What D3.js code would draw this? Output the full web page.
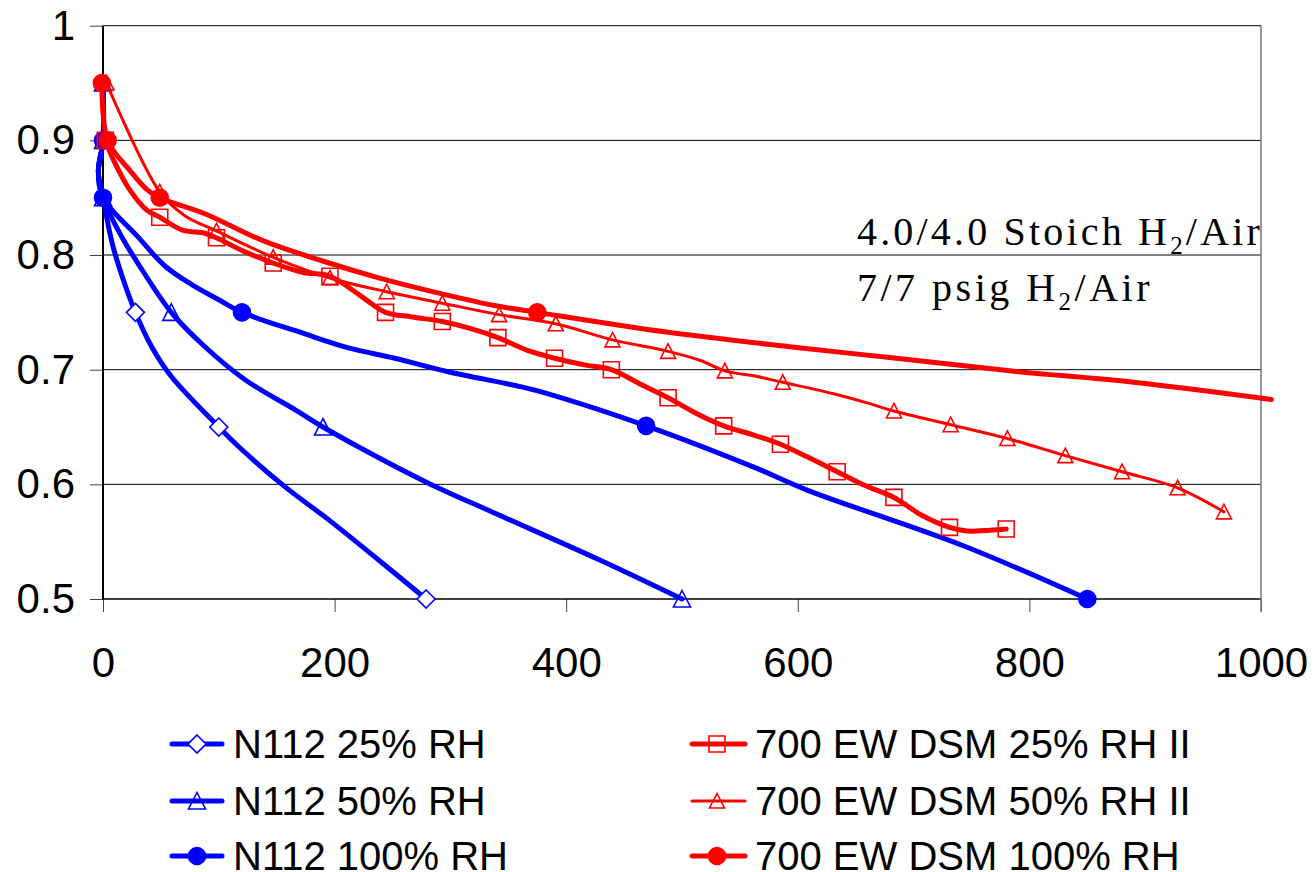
<!DOCTYPE html>
<html>
<head>
<meta charset="utf-8">
<script src="https://cdn.jsdelivr.net/npm/d3@7"></script>
<style>
  body { margin: 0; background: #fff; }
</style>
</head>
<body>
<script>
// Axis ticks
const xTicks = [0, 200, 400, 600, 800, 1000];
const yTicks = [0.5, 0.6, 0.7, 0.8, 0.9, 1];
const yTickLabels = ["0.5", "0.6", "0.7", "0.8", "0.9", "1"];

const seriesNames = ["N112 25% RH", "N112 50% RH", "N112 100% RH",
  "700 EW DSM 25% RH II", "700 EW DSM 50% RH II", "700 EW DSM 100% RH"];

// line points [x, y]
const n112rh25Line = [[0,0.95],[0,0.9],[-4,0.873],[0,0.85],[8,0.81],[17,0.78],[28,0.75],[42,0.72],[59,0.694],[100,0.65],
  [117,0.633],[157,0.598],[195,0.569],[238,0.534],[279,0.5]];
const n112rh25Marks = [[28,0.75],[100,0.65],[279,0.5]];

const n112rh50Line = [[0,0.95],[0,0.9],[-4,0.873],[0,0.85],[15,0.818],[30,0.793],[59,0.75],[88,0.72],[123,0.691],[166,0.665],
  [190,0.65],[220,0.633],[281,0.601],[338,0.575],[429,0.534],[500,0.5]];
const n112rh50Marks = [[0,0.95],[0,0.9],[0,0.85],[59,0.75],[190,0.65],[500,0.5]];

const n112rh100Line = [[0,0.95],[0,0.9],[-4,0.873],[0,0.85],[30,0.816],[54,0.79],[77,0.774],[100,0.761],[120,0.75],[172,0.732],
  [212,0.719],[252,0.71],[299,0.698],[357,0.686],[377,0.681],[469,0.651],[562,0.615],[608,0.595],[744,0.546],[850,0.5]];
const n112rh100Marks = [[0,0.9],[0,0.85],[120,0.75],[469,0.651],[850,0.5]];

const ewRh25Line = [[2,0.9],[9,0.883],[23,0.857],[38,0.839],[49,0.833],[68,0.822],[88,0.819],[98,0.815],[120,0.804],[147,0.793],
  [172,0.785],[196,0.7815],[223,0.764],[244,0.75],[267,0.746],[293,0.742],[317,0.736],[341,0.728],[366,0.717],[390,0.71],
  [417,0.704],[439,0.7],[463,0.688],[488,0.6755],[512,0.662],[536,0.651],[562,0.643],[585,0.635],[608,0.624],[634,0.611],
  [657,0.5994],[683,0.5886],[707,0.573],[731,0.5625],[746,0.5593],[766,0.56],[780,0.561]];
const ewRh25Marks = [[2,0.9],[49,0.833],[98,0.815],[147,0.793],[196,0.7815],[244,0.75],[293,0.742],[341,0.728],[390,0.71],
  [439,0.7],[488,0.6755],[536,0.651],[585,0.635],[634,0.611],[683,0.5886],[731,0.5625],[780,0.561]];

const ewRh50Line = [[3,0.95],[49,0.855],[71,0.834],[98,0.821],[147,0.798],[196,0.78],[245,0.768],[293,0.758],[342,0.748],
  [391,0.74],[440,0.726],[488,0.716],[516,0.708],[537,0.699],[565,0.694],[587,0.689],[631,0.679],[660,0.671],[683,0.664],
  [732,0.652],[781,0.64],[831,0.625],[880,0.611],[928,0.597],[968,0.576]];
const ewRh50Marks = [[3,0.95],[49,0.855],[98,0.821],[147,0.798],[196,0.78],[245,0.768],[293,0.758],[342,0.748],[391,0.74],
  [440,0.726],[488,0.716],[537,0.699],[587,0.689],[683,0.664],[732,0.652],[781,0.64],[831,0.625],[880,0.611],[928,0.597],[968,0.576]];

const ewRh100Line = [[-1,0.95],[4,0.9],[23,0.874],[38,0.857],[49,0.85],[88,0.836],[137,0.813],[189,0.795],[235,0.781],
  [281,0.769],[338,0.756],[375,0.75],[485,0.733],[593,0.72],[685,0.71],[783,0.699],[890,0.689],[1009,0.674]];
const ewRh100Marks = [[-1,0.95],[4,0.9],[49,0.85],[375,0.75]];

const lines = [n112rh25Line, n112rh50Line, n112rh100Line, ewRh25Line, ewRh50Line, ewRh100Line];
const marks = [n112rh25Marks, n112rh50Marks, n112rh100Marks, ewRh25Marks, ewRh50Marks, ewRh100Marks];

// look of each series
const looks = [
  { color: "#0000ff", width: 5, marker: "diamond" },
  { color: "#0000ff", width: 5, marker: "triangleBig" },
  { color: "#0000ff", width: 5, marker: "circle" },
  { color: "#ff0000", width: 5, marker: "square" },
  { color: "#ff0000", width: 3, marker: "triangle" },
  { color: "#ff0000", width: 5, marker: "circle" }
];

const svgWidth = 1316, svgHeight = 872;
const plotLeft = 103, plotRight = 1261, plotTop = 25.7, plotBottom = 599;

const svg = d3.select("body").append("svg")
  .attr("width", svgWidth)
  .attr("height", svgHeight);

const x = d3.scaleLinear().domain([0, 1000]).range([plotLeft, plotRight]);
const y = d3.scaleLinear().domain([0.5, 1]).range([plotBottom, plotTop]);

// gridlines
svg.append("g").selectAll("line")
  .data(yTicks.slice(1))
  .enter().append("line")
  .attr("x1", plotLeft).attr("x2", plotRight)
  .attr("y1", d => y(d)).attr("y2", d => y(d))
  .attr("stroke", "#000").attr("stroke-width", 1);

// axes
const xAxis = d3.axisBottom(x).tickValues(xTicks).tickSize(13).tickPadding(35).tickFormat(d3.format("d"));
const yAxis = d3.axisLeft(y).tickValues(yTicks).tickSize(13).tickPadding(15).tickFormat((d, i) => yTickLabels[i]);

const gx = svg.append("g").attr("transform", "translate(0," + plotBottom + ")").call(xAxis);
const gy = svg.append("g").attr("transform", "translate(" + plotLeft + ",0)").call(yAxis);
[gx, gy].forEach(g => {
  g.select(".domain").remove();
  g.selectAll(".tick line").attr("stroke", "#444");
  g.selectAll(".tick text")
    .attr("font-family", "Liberation Sans, Arial, sans-serif")
    .attr("font-size", 42)
    .attr("fill", "#000");
});

// plot frame: left/bottom axis lines black, right border grey
svg.append("line").attr("x1", plotLeft).attr("x2", plotLeft).attr("y1", plotTop).attr("y2", plotBottom)
  .attr("stroke", "#000").attr("stroke-width", 2);
svg.append("line").attr("x1", plotLeft).attr("x2", plotRight).attr("y1", plotBottom).attr("y2", plotBottom)
  .attr("stroke", "#000").attr("stroke-width", 1.5);
svg.append("line").attr("x1", plotRight).attr("x2", plotRight).attr("y1", plotTop).attr("y2", plotBottom + 13)
  .attr("stroke", "#777").attr("stroke-width", 1.5);

function markerPath(type) {
  switch (type) {
    case "diamond": return "M0,-9L9,0L0,9L-9,0Z";
    case "triangleBig": return "M0,-8.5L8.5,8L-8.5,8Z";
    case "triangle": return "M0,-7.5L7.5,7L-7.5,7Z";
    case "square": return "M-8,-8H8V8H-8Z";
    case "circle": return d3.symbol(d3.symbolCircle, Math.PI * 8.5 * 8.5)();
  }
}

function drawMarker(g, type, color, cx, cy) {
  const filled = type === "circle";
  g.append("path")
    .attr("d", markerPath(type))
    .attr("transform", "translate(" + cx + "," + cy + ")")
    .attr("fill", filled ? color : (type === "diamond" ? "#fff" : "none"))
    .attr("stroke", color)
    .attr("stroke-width", 1.6);
}

const lineGen = d3.line()
  .x(d => x(d[0]))
  .y(d => y(d[1]))
  .curve(d3.curveCatmullRom.alpha(0.5));

lines.forEach((pts, i) => {
  const g = svg.append("g");
  g.append("path")
    .attr("d", lineGen(pts))
    .attr("fill", "none")
    .attr("stroke", looks[i].color)
    .attr("stroke-width", looks[i].width)
    .attr("stroke-linejoin", "round")
    .attr("stroke-linecap", "round");
  marks[i].forEach(p => drawMarker(g, looks[i].marker, looks[i].color, x(p[0]), y(p[1])));
});

// annotation
const note = svg.append("g")
  .attr("font-family", "Liberation Serif, Times New Roman, serif")
  .attr("font-size", 40)
  .attr("fill", "#000");

function noteLine(yPos, before, after, target) {
  const t = note.append("text").attr("x", 857).attr("y", yPos);
  t.append("tspan").text(before);
  t.append("tspan").attr("font-size", 25).attr("dy", 9).text("2");
  t.append("tspan").attr("dy", -9).text(after);
  const natural = t.node().getComputedTextLength();
  const chars = (before + "2" + after).length;
  t.attr("letter-spacing", (target - natural) / chars);
}
noteLine(245, "4.0/4.0 Stoich H", "/Air", 406);
noteLine(301, "7/7 psig H", "/Air", 296);

// legend
const legendRows = [744, 801, 856];
const legendCols = [
  { x1: 172, x2: 222, mx: 197, tx: 233 },
  { x1: 692, x2: 745, mx: 717, tx: 755 }
];
seriesNames.forEach((name, i) => {
  const col = legendCols[Math.floor(i / 3)];
  const ry = legendRows[i % 3];
  const g = svg.append("g");
  g.append("line")
    .attr("x1", col.x1).attr("x2", col.x2)
    .attr("y1", ry).attr("y2", ry)
    .attr("stroke", looks[i].color)
    .attr("stroke-width", looks[i].width)
    .attr("stroke-linecap", "round");
  drawMarker(g, looks[i].marker, looks[i].color, col.mx, ry);
  g.append("text")
    .attr("x", col.tx).attr("y", ry)
    .attr("dy", "0.35em")
    .attr("font-family", "Liberation Sans, Arial, sans-serif")
    .attr("font-size", 40)
    .attr("fill", "#000")
    .text(name);
});
</script>
</body>
</html>
